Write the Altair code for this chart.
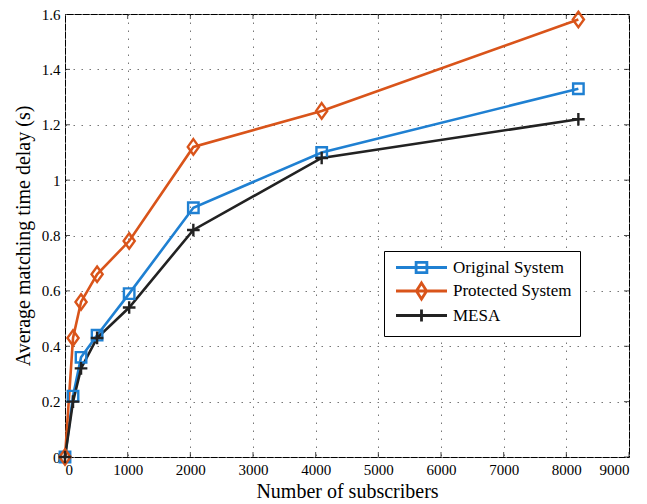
import altair as alt
import pandas as pd

subscribers = [0, 128, 256, 512, 1024, 2048, 4096, 8192]
original = [0.0, 0.22, 0.36, 0.44, 0.59, 0.90, 1.10, 1.33]
protected = [0.0, 0.43, 0.56, 0.66, 0.78, 1.12, 1.25, 1.58]
mesa = [0.0, 0.20, 0.32, 0.43, 0.54, 0.82, 1.08, 1.22]
series_names = ["Original System", "Protected System", "MESA"]
series_colors = ["#1f80d2", "#d9541a", "#222222"]
x_ticks = [0, 1000, 2000, 3000, 4000, 5000, 6000, 7000, 8000, 9000]
y_ticks = [0, 0.2, 0.4, 0.6, 0.8, 1.0, 1.2, 1.4, 1.6]

rows = []
for name, vals in zip(series_names, [original, protected, mesa]):
    for x, y in zip(subscribers, vals):
        rows.append({"x": x, "y": y, "series": name})
df = pd.DataFrame(rows)

FONT = "Liberation Serif"
xs = alt.Scale(domain=[0, 9000], nice=False)
ys = alt.Scale(domain=[0, 1.6], nice=False)
cs = alt.Scale(domain=series_names, range=series_colors)

marker_paths = {
    "Original System": "M-1,-1H1V1H-1Z",
    "Protected System": "M0,-1L0.72,0L0,1L-0.72,0Z",
    "MESA": "M-1,0H1M0,-1V1",
}
marker_sizes = {"Original System": 110, "Protected System": 240, "MESA": 160}
legend_paths = [
    "M-4.25,0H4.25M-0.9,-0.85H0.9V0.85H-0.9Z",
    "M-4.25,0H4.25M0,-1.35L0.85,0L0,1.35L-0.85,0Z",
    "M-4.25,0H4.25M0,-1V1",
]

axis_common = dict(grid=True, domain=False, ticks=False, labelFont=FONT, labelFontSize=15,
                   labelColor="black", titleFont=FONT, titleFontSize=20, titleFontWeight="normal",
                   titleColor="black", gridColor="#777777", gridDash=[1.5, 6.5], gridWidth=1,
                   labelPadding=5)
x_axis = alt.Axis(values=x_ticks, title="Number of subscribers", format="d", titlePadding=4, **axis_common)
y_axis = alt.Axis(values=y_ticks, title="Average matching time delay (s)", format="~g",
                  titlePadding=8, **axis_common)


def X(field="x:Q"):
    return alt.X(field, scale=xs, axis=x_axis)


def Y(field="y:Q"):
    return alt.Y(field, scale=ys, axis=y_axis)


legend_layer = alt.Chart(df).transform_filter(alt.datum.x == 0).mark_point(
    filled=False, opacity=0
).encode(
    x=X(), y=Y(),
    color=alt.Color("series:N", scale=cs, legend=alt.Legend(
        orient="none", legendX=319, legendY=237, title=None,
        strokeColor="black", fillColor="white", padding=8, cornerRadius=0,
        labelFont=FONT, labelFontSize=17, labelColor="black",
        symbolSize=144, symbolStrokeWidth=2.8, symbolOpacity=1,
        symbolOffset=21, labelOffset=23, rowPadding=-2.5, labelLimit=300,
    )),
    shape=alt.Shape("series:N", scale=alt.Scale(domain=series_names, range=legend_paths)),
)

lines = alt.Chart(df).mark_line(strokeWidth=2.6).encode(
    x=X(), y=Y(),
    color=alt.Color("series:N", scale=cs, legend=None),
    detail="series:N",
)

point_layers = []
for name in series_names:
    point_layers.append(
        alt.Chart(df).transform_filter(alt.datum.series == name).mark_point(
            shape=marker_paths[name], filled=False, strokeWidth=2.4, size=marker_sizes[name], opacity=1
        ).encode(x=X(), y=Y(), color=alt.Color("series:N", scale=cs, legend=None))
    )

# inward tick marks along the frame
xt = pd.DataFrame({"x": x_ticks})
yt = pd.DataFrame({"y": y_ticks})
tick_style = dict(color="black", thickness=1, size=10, clip=True)
tb = alt.Chart(xt).mark_tick(orient="vertical", **tick_style).encode(
    x=X(), y=alt.Y(datum=0, type="quantitative", scale=ys, axis=y_axis))
tt = alt.Chart(xt).mark_tick(orient="vertical", **tick_style).encode(
    x=X(), y=alt.Y(datum=1.6, type="quantitative", scale=ys, axis=y_axis))
tl = alt.Chart(yt).mark_tick(orient="horizontal", **tick_style).encode(
    y=Y(), x=alt.X(datum=0, type="quantitative", scale=xs, axis=x_axis))
tr = alt.Chart(yt).mark_tick(orient="horizontal", **tick_style).encode(
    y=Y(), x=alt.X(datum=9000, type="quantitative", scale=xs, axis=x_axis))

chart = alt.layer(legend_layer, tb, tt, tl, tr, lines, *point_layers).resolve_legend(
    color="independent", shape="independent"
).properties(
    width=564, height=443,
    padding={"left": 13, "top": 6, "right": 5, "bottom": 5},
).configure_view(stroke="black", strokeWidth=1).configure_axis(
    labelFont=FONT, titleFont=FONT
)

chart.save("out.html", embed_options={"renderer": "svg", "actions": False})
